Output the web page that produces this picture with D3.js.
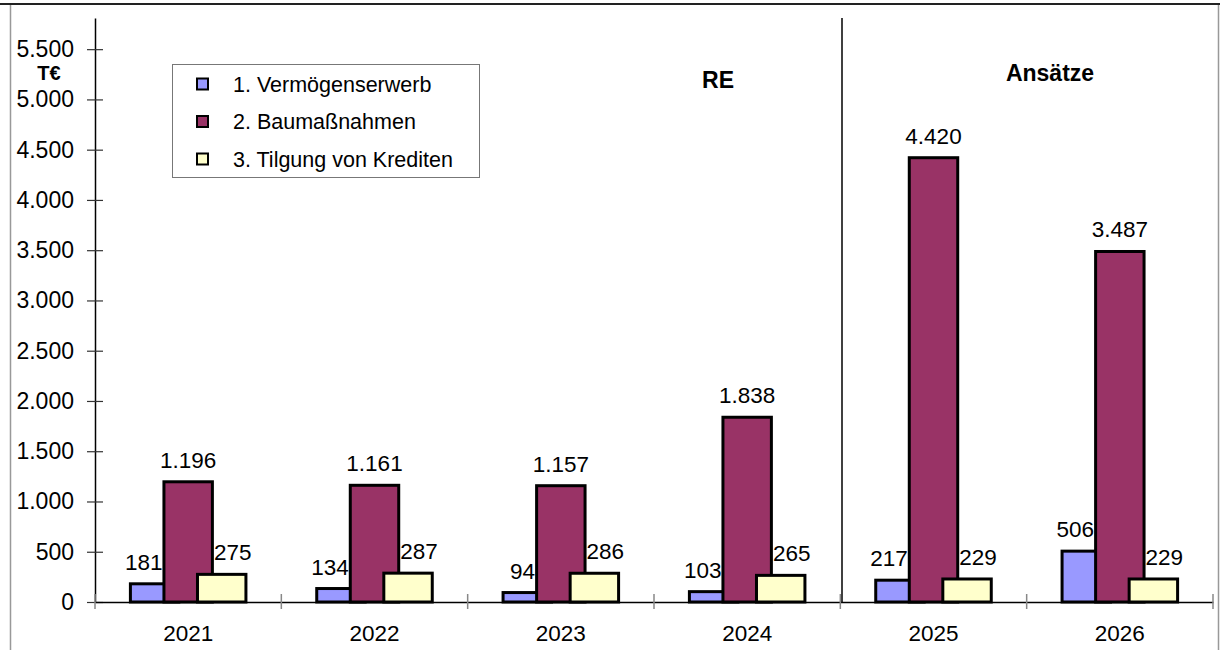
<!DOCTYPE html>
<html>
<head>
<meta charset="utf-8">
<script src="https://cdn.jsdelivr.net/npm/d3@7"></script>
<style>
  html, body { margin: 0; padding: 0; background: #fff; }
  svg { display: block; font-family: "Liberation Sans", Arial, sans-serif; }
</style>
</head>
<body>
<svg id="chart" width="1220" height="650"></svg>
<script>
// Investive Ausgaben in T€ – Rechnungsergebnisse und Haushaltsansätze
const years = ["2021", "2022", "2023", "2024", "2025", "2026"];
const seriesNames = ["1. Vermögenserwerb", "2. Baumaßnahmen", "3. Tilgung von Krediten"];
const vermoegenserwerb = [181, 134, 94, 103, 217, 506];
const baumassnahmen = [1196, 1161, 1157, 1838, 4420, 3487];
const tilgung = [275, 287, 286, 265, 229, 229];
const yTicks = [0, 500, 1000, 1500, 2000, 2500, 3000, 3500, 4000, 4500, 5000, 5500];
const colors = ["#9999FF", "#993366", "#FFFFCC"];

const series = [vermoegenserwerb, baumassnahmen, tilgung];
const fmt = v => d3.format(",")(v).replace(/,/g, ".");

const svg = d3.select("#chart");

// page frame
svg.append("line").attr("x1", 0).attr("x2", 1220).attr("y1", 4).attr("y2", 4)
  .attr("stroke", "#222").attr("stroke-width", 2);
svg.append("line").attr("x1", 10.5).attr("x2", 10.5).attr("y1", 5).attr("y2", 650)
  .attr("stroke", "#999").attr("stroke-width", 1.5);
svg.append("line").attr("x1", 1218.5).attr("x2", 1218.5).attr("y1", 5).attr("y2", 650)
  .attr("stroke", "#999").attr("stroke-width", 1.5);

const plot = { left: 95, right: 1213, top: 18, bottom: 602 };

const x = d3.scaleBand().domain(years).range([plot.left, plot.right]).padding(0);
const y = d3.scaleLinear().domain([0, 5810]).range([plot.bottom, plot.top]);

const bw = x.bandwidth();
const barW = bw * 0.26;
const step = bw * 0.18;
const barX = (d, si) => x(d) + bw / 2 - barW / 2 + (si - 1) * step;

// y axis
const yAxis = d3.axisLeft(y).tickValues(yTicks).tickFormat(fmt)
  .tickSizeInner(8).tickSizeOuter(0).tickPadding(13);
const gy = svg.append("g").attr("transform", `translate(${plot.left},0)`).call(yAxis);
gy.select(".domain").attr("stroke", "#000").attr("stroke-width", 1.5);
gy.selectAll(".tick line").attr("x1", -8).attr("x2", 8).attr("stroke", "#333").attr("stroke-width", 1.2);
gy.selectAll(".tick text").attr("font-size", 23).attr("fill", "#000")
  .attr("font-family", "Liberation Sans, Arial, sans-serif");

svg.append("text").attr("x", 49).attr("y", 80).attr("text-anchor", "middle")
  .attr("font-size", 20).attr("font-weight", "bold").text("T€");

// x axis
const gx = svg.append("g").attr("transform", `translate(0,${plot.bottom})`)
  .call(d3.axisBottom(x).tickSize(0).tickPadding(23));
gx.select(".domain").attr("stroke", "#000").attr("stroke-width", 1.5);
gx.selectAll(".tick text").attr("font-size", 22.5).attr("fill", "#000")
  .attr("font-family", "Liberation Sans, Arial, sans-serif");

// category separators on the x axis
const bounds = years.map(d => x(d)).concat([plot.right]);
svg.append("g").selectAll("line").data(bounds).join("line")
  .attr("x1", d => d).attr("x2", d => d)
  .attr("y1", plot.bottom - 8).attr("y2", plot.bottom + 7)
  .attr("stroke", "#888").attr("stroke-width", 1.5);

// divider between results (RE) and budget estimates (Ansätze)
svg.append("line").attr("x1", 842).attr("x2", 842).attr("y1", plot.top).attr("y2", plot.bottom)
  .attr("stroke", "#000").attr("stroke-width", 1.5);

svg.append("text").attr("x", 718).attr("y", 88).attr("text-anchor", "middle")
  .attr("font-size", 23).attr("font-weight", "bold").text("RE");
svg.append("text").attr("x", 1050).attr("y", 81).attr("text-anchor", "middle")
  .attr("font-size", 23).attr("font-weight", "bold").text("Ansätze");

// bars (later series overlap earlier ones)
series.forEach((vals, si) => {
  svg.append("g").selectAll("rect").data(years).join("rect")
    .attr("x", d => barX(d, si))
    .attr("y", (d, i) => y(vals[i]))
    .attr("width", barW)
    .attr("height", (d, i) => y(0) - y(vals[i]))
    .attr("fill", colors[si])
    .attr("stroke", "#000").attr("stroke-width", 3);
});

// value labels: centred over the bar, pushed sideways when they would
// run into the taller middle bar of the group
const labelSize = 22.5;
const gap = 14;
series.forEach((vals, si) => {
  const g = svg.append("g");
  years.forEach((d, i) => {
    const t = g.append("text")
      .attr("y", y(vals[i]) - gap)
      .attr("font-size", labelSize)
      .text(fmt(vals[i]));
    const w = t.node().getComputedTextLength();
    let left = barX(d, si) + barW / 2 - w / 2;
    if (si !== 1) {
      const midTop = y(baumassnahmen[i]);
      const labelBottom = y(vals[i]) - gap + 2;
      const midL = barX(d, 1) - 1.5, midR = barX(d, 1) + barW + 1.5;
      if (labelBottom > midTop) {
        if (si === 0 && left + w > midL) left = midL - w;
        if (si === 2 && left < midR) left = midR;
      }
    }
    t.attr("x", left);
  });
});

// legend
const lg = svg.append("g");
lg.append("rect").attr("x", 172.5).attr("y", 64.5).attr("width", 307).attr("height", 113)
  .attr("fill", "#fff").attr("stroke", "#777").attr("stroke-width", 1);
seriesNames.forEach((name, i) => {
  const cy = 84 + i * 37.5;
  lg.append("rect").attr("x", 197).attr("y", cy - 5.5).attr("width", 11).attr("height", 11)
    .attr("fill", colors[i]).attr("stroke", "#000").attr("stroke-width", 2);
  lg.append("text").attr("x", 233).attr("y", cy + 7.5).attr("font-size", 21.5).text(name);
});
</script>
</body>
</html>
